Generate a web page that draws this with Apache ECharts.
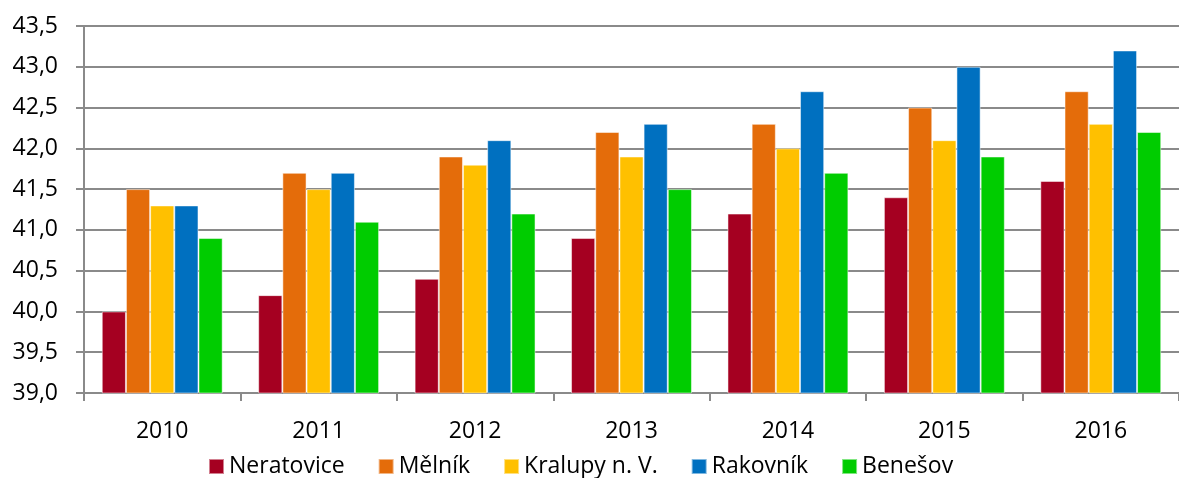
<!DOCTYPE html>
<html><head><meta charset="utf-8">
<script src="https://cdn.jsdelivr.net/npm/echarts@6/dist/echarts.min.js"></script>
<style>html,body{margin:0;padding:0;background:#fff}#c{width:1179px;height:478px}</style>
</head><body><div id="c"></div>
<script>
const years = ['2010','2011','2012','2013','2014','2015','2016'];
const seriesNames = ['Neratovice','Mělník','Kralupy n. V.','Rakovník','Benešov'];
const neratovice = [40.0, 40.2, 40.4, 40.9, 41.2, 41.4, 41.6];
const melnik = [41.5, 41.7, 41.9, 42.2, 42.3, 42.5, 42.7];
const kralupy = [41.3, 41.5, 41.8, 41.9, 42.0, 42.1, 42.3];
const rakovnik = [41.3, 41.7, 42.1, 42.3, 42.7, 43.0, 43.2];
const benesov = [40.9, 41.1, 41.2, 41.5, 41.7, 41.9, 42.2];
const colors = ['#A50021','#E46C0A','#FFC000','#0070C0','#00CC00'];
const values = [neratovice, melnik, kralupy, rakovnik, benesov];
const font = '"Open Sans", "Liberation Sans", Arial, sans-serif';
const chart = echarts.init(document.getElementById('c'));
chart.setOption({
  animation:false,
  grid:{left:84, top:26, width:1104, height:367, containLabel:false},
  legend:{top:455, left:208, padding:0, icon:'rect', itemWidth:15, itemHeight:15, itemGap:33,
    textStyle:{fontFamily:font, fontSize:23, color:'#000'}, data:seriesNames},
  xAxis:{type:'category', data:years,
    axisLine:{lineStyle:{color:'#8a8a8a', width:2}},
    axisTick:{show:true, length:8, lineStyle:{color:'#8a8a8a', width:2}},
    axisLabel:{fontFamily:font, fontSize:23, color:'#000', margin:27}},
  yAxis:{type:'value', min:39, max:43.5, interval:0.5,
    axisLine:{show:true, lineStyle:{color:'#8a8a8a', width:2}},
    axisTick:{show:true, length:8, lineStyle:{color:'#8a8a8a', width:2}},
    splitLine:{lineStyle:{color:'#8a8a8a', width:2}},
    axisLabel:{fontFamily:font, fontSize:23, color:'#000', margin:26,
      formatter:v=>v.toFixed(1).replace('.',',')}},
  series: seriesNames.map((n,i)=>({name:n, type:'bar', data:values[i], barGap:'0%', barCategoryGap:'22.7%',
    itemStyle:{color:colors[i], borderColor:'rgba(255,255,255,0.5)', borderWidth:1}}))
});
</script></body></html>
